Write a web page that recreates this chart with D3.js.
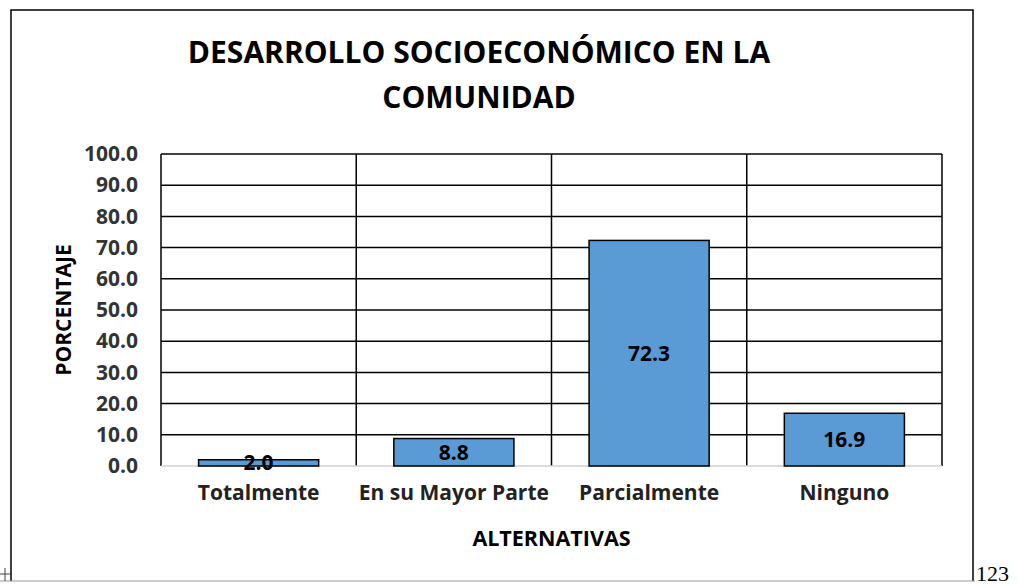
<!DOCTYPE html>
<html>
<head>
<meta charset="utf-8">
<script src="https://cdn.jsdelivr.net/npm/d3@7"></script>
<style>
  html, body { margin: 0; padding: 0; background: #fff; }
  svg { display: block; }
</style>
</head>
<body>
<div id="chart"></div>
<script>
    'use strict';

    // data
    const categories = ['Totalmente', 'En su Mayor Parte', 'Parcialmente', 'Ninguno'];
    const values = [2.0, 8.8, 72.3, 16.9];
    const yTicks = [0, 10, 20, 30, 40, 50, 60, 70, 80, 90, 100];
    const titleLines = ['DESARROLLO SOCIOECONÓMICO EN LA', 'COMUNIDAD'];

    const width = 1019,
        height = 584,
        margin = {top: 154, right: 77, bottom: 118, left: 161},
        innerWidth = width - margin.left - margin.right,
        innerHeight = height - margin.top - margin.bottom,

        fontFamily = '"Open Sans", Lato, sans-serif',
        labelSize = 21,
        barFill = '#5B9BD5',
        gridColor = '#000',
        tickColor = '#333';

    const svg = d3.select('#chart')
        .append('svg')
        .attr('width', width)
        .attr('height', height)
        .attr('font-family', fontFamily);

    // frame around the chart
    svg.append('path')
        .attr('d', 'M11,581 V10 H973 V581')
        .attr('fill', 'none')
        .attr('stroke', '#000')
        .attr('stroke-width', 1.5);
    svg.append('line')
        .attr('x1', 0).attr('x2', 975)
        .attr('y1', 581).attr('y2', 581)
        .attr('stroke', '#999')
        .attr('stroke-width', 1);
    // small cross at the lower left corner
    svg.append('path')
        .attr('d', 'M0,574 H10 M5,568 V581')
        .attr('stroke', '#444')
        .attr('stroke-width', 1);
    svg.append('text')
        .attr('x', 976)
        .attr('y', 581)
        .attr('font-family', '"Liberation Serif", "DejaVu Serif", serif')
        .attr('font-size', 22)
        .attr('fill', '#000')
        .text('123');

    // title
    svg.append('text')
        .attr('text-anchor', 'middle')
        .attr('font-weight', 'bold')
        .attr('font-size', 30)
        .attr('fill', '#000')
        .selectAll('tspan')
        .data(titleLines)
        .join('tspan')
        .attr('x', 479)
        .attr('y', (d, i) => 63 + i * 45)
        .text(d => d);

    const g = svg.append('g')
        .attr('transform', `translate(${margin.left},${margin.top})`);

    const x = d3.scaleBand()
        .domain(categories)
        .range([0, innerWidth])
        .paddingInner(0)
        .paddingOuter(0);

    const y = d3.scaleLinear()
        .domain([0, 100])
        .range([innerHeight, 0]);

    // horizontal gridlines
    g.append('g')
        .selectAll('line')
        .data(yTicks.filter(d => d > 0))
        .join('line')
        .attr('x1', 0)
        .attr('x2', innerWidth)
        .attr('y1', d => y(d))
        .attr('y2', d => y(d))
        .attr('stroke', gridColor)
        .attr('stroke-width', 1.5);

    // vertical gridlines on category boundaries
    g.append('g')
        .selectAll('line')
        .data(categories.map(c => x(c)).concat([innerWidth]))
        .join('line')
        .attr('x1', d => d)
        .attr('x2', d => d)
        .attr('y1', 0)
        .attr('y2', innerHeight)
        .attr('stroke', gridColor)
        .attr('stroke-width', 1.5);

    // baseline
    g.append('line')
        .attr('x1', 0)
        .attr('x2', innerWidth)
        .attr('y1', innerHeight)
        .attr('y2', innerHeight)
        .attr('stroke', '#d0d0d0')
        .attr('stroke-width', 1.5);

    // bars
    const barWidth = x.bandwidth() * 0.615;
    g.append('g')
        .selectAll('rect')
        .data(values)
        .join('rect')
        .attr('x', (d, i) => x(categories[i]) + (x.bandwidth() - barWidth) / 2)
        .attr('y', d => y(d))
        .attr('width', barWidth)
        .attr('height', d => y(0) - y(d))
        .attr('fill', barFill)
        .attr('stroke', '#000')
        .attr('stroke-width', 1.5);

    // value labels, centred in the bars
    g.append('g')
        .selectAll('text')
        .data(values)
        .join('text')
        .attr('x', (d, i) => x(categories[i]) + x.bandwidth() / 2)
        .attr('y', d => (y(d) + y(0)) / 2)
        .attr('dy', '0.36em')
        .attr('text-anchor', 'middle')
        .attr('font-weight', 'bold')
        .attr('font-size', labelSize)
        .attr('fill', '#000')
        .text(d => d3.format('.1f')(d));

    // y axis tick labels
    const yAxis = d3.axisLeft(y)
        .tickValues(yTicks)
        .tickFormat(d3.format('.1f'))
        .tickSize(0)
        .tickPadding(23);

    g.append('g')
        .call(yAxis)
        .attr('font-family', fontFamily)
        .attr('font-size', labelSize)
        .attr('font-weight', 'bold')
        .call(sel => sel.select('.domain').remove())
        .selectAll('text')
        .attr('fill', tickColor);

    // x axis labels
    const xAxis = d3.axisBottom(x)
        .tickSize(0)
        .tickPadding(19);

    g.append('g')
        .attr('transform', `translate(0,${innerHeight})`)
        .call(xAxis)
        .attr('font-family', fontFamily)
        .attr('font-size', labelSize)
        .attr('font-weight', 'bold')
        .call(sel => sel.select('.domain').remove())
        .selectAll('text')
        .attr('fill', '#222');

    // axis titles
    svg.append('text')
        .attr('x', margin.left + innerWidth / 2)
        .attr('y', 546)
        .attr('text-anchor', 'middle')
        .attr('font-weight', 'bold')
        .attr('font-size', 21.5)
        .attr('fill', '#000')
        .text('ALTERNATIVAS');

    svg.append('text')
        .attr('transform', 'translate(71,310) rotate(-90)')
        .attr('text-anchor', 'middle')
        .attr('font-weight', 'bold')
        .attr('font-size', 21)
        .attr('fill', '#000')
        .text('PORCENTAJE');
</script>
</body>
</html>
